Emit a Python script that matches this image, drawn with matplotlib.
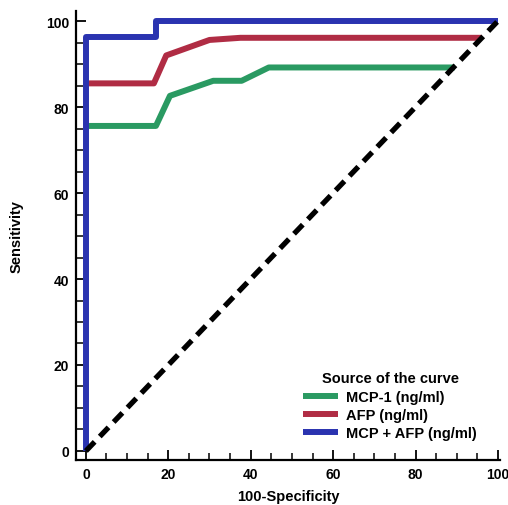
import numpy as np
import matplotlib
matplotlib.use("Agg")
import matplotlib.pyplot as plt
from matplotlib.ticker import MultipleLocator

plt.rcParams["font.family"] = ["Liberation Sans", "DejaVu Sans"]
plt.rcParams["font.weight"] = "bold"

# ROC curves (100-Specificity, Sensitivity)
mcp_x = [0, 17, 20.4, 30.9, 37.8, 44.4, 89.5]
mcp_y = [75.6, 75.6, 82.6, 86.1, 86.1, 89.2, 89.2]

afp_x = [0, 16.5, 19.5, 30, 37.5, 96]
afp_y = [85.5, 85.5, 92, 95.6, 96.1, 96.1]

both_x = [0, 0, 17, 17, 100]
both_y = [0, 96.3, 96.3, 100, 100]

labels = ["MCP-1 (ng/ml)", "AFP (ng/ml)", "MCP + AFP (ng/ml)"]
colors = ["#2A9A62", "#B02C44", "#2A33B0"]

fig = plt.figure(figsize=(5.08, 5.06), dpi=100)
ax = fig.add_axes([0.1496, 0.0889, 0.8346, 0.8871])

lw = 4.3
ax.plot(mcp_x, mcp_y, color=colors[0], lw=lw, label=labels[0], solid_capstyle="butt")
ax.plot(afp_x, afp_y, color=colors[1], lw=lw, label=labels[1], solid_capstyle="butt")
ax.plot(both_x, both_y, color=colors[2], lw=lw, label=labels[2], solid_capstyle="butt")
ax.plot([0, 100], [0, 100], color="black", lw=3.8, ls=(0, (2.4, 1.4)), zorder=5)

ax.set_xlim(-2.4, 100.5)
ax.set_ylim(-2.1, 102.3)
ax.spines["top"].set_visible(False)
ax.spines["right"].set_visible(False)
for s in ["left", "bottom"]:
    ax.spines[s].set_linewidth(1.6)

ax.xaxis.set_major_locator(MultipleLocator(20))
ax.xaxis.set_minor_locator(MultipleLocator(5))
ax.yaxis.set_major_locator(MultipleLocator(20))
ax.yaxis.set_minor_locator(MultipleLocator(5))
ax.tick_params(which="major", direction="in", length=7, width=1.3, labelsize=10, pad=5)
ax.tick_params(which="minor", direction="in", length=5, width=1.1)

ax.set_xlabel("100-Specificity", fontsize=10.5, fontweight="bold", labelpad=6)
ax.set_ylabel("Sensitivity", fontsize=10.5, fontweight="bold", labelpad=16)

leg = ax.legend(title="Source of the curve", loc="upper left",
                bbox_to_anchor=(296 / 508, 1 - 365 / 506), bbox_transform=fig.transFigure,
                frameon=False, fontsize=10.5, title_fontsize=10.5,
                handlelength=2.4, handletextpad=0.55, labelspacing=0.3, borderpad=0)
leg.get_title().set_fontweight("bold")
for line in leg.get_lines():
    line.set_linewidth(4.3)

fig.savefig("out.png", dpi=100)
